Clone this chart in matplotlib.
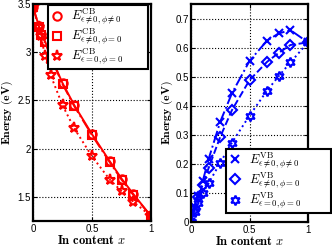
import matplotlib
matplotlib.use("Agg")
import matplotlib.pyplot as plt
import numpy as np

plt.rcParams["mathtext.fontset"] = "cm"
plt.rcParams["font.family"] = ["Liberation Sans", "DejaVu Sans"]

# Conduction band (left panel)
x_cb = [0, 0.05, 0.07, 0.1, 0.15, 0.25, 0.35, 0.5, 0.65, 0.75, 0.85, 1.0]
cb_eps_phi = [3.47, 3.27, 3.19, 3.12, 2.96, 2.68, 2.45, 2.15, 1.87, 1.69, 1.53, 1.30]
cb_eps_only = [3.47, 3.26, 3.18, 3.11, 2.95, 2.67, 2.44, 2.14, 1.86, 1.68, 1.52, 1.30]
cb_none = [3.47, 3.26, 3.17, 2.96, 2.76, 2.45, 2.21, 1.92, 1.68, 1.56, 1.45, 1.30]

# Valence band (right panel)
x_vb = [0, 0.03, 0.06, 0.1, 0.15, 0.25, 0.35, 0.5, 0.65, 0.75, 0.85, 1.0]
vb_eps_phi = [0, 0.05, 0.09, 0.14, 0.216, 0.345, 0.443, 0.554, 0.624, 0.649, 0.66, 0.618]
vb_eps_only = [0, 0.045, 0.085, 0.128, 0.185, 0.293, 0.385, 0.488, 0.551, 0.582, 0.609, 0.618]
vb_none = [0, 0.035, 0.065, 0.1, 0.133, 0.204, 0.273, 0.366, 0.452, 0.502, 0.549, 0.618]

cb_labels = [r"$E^{\rm CB}_{\epsilon\neq0,\phi\neq0}$",
             r"$E^{\rm CB}_{\epsilon\neq0,\phi=0}$",
             r"$E^{\rm CB}_{\epsilon=0,\phi=0}$"]
vb_labels = [r"$E^{\rm VB}_{\epsilon\neq0,\phi\neq0}$",
             r"$E^{\rm VB}_{\epsilon\neq0,\phi=0}$",
             r"$E^{\rm VB}_{\epsilon=0,\phi=0}$"]

red = "#ff0000"
blue = "#0000ff"
hexagram = (6, 1, 0)

fig = plt.figure(figsize=(3.32, 2.47), dpi=100)
ax1 = fig.add_axes([33 / 332, 26 / 247, 118 / 332, 217 / 247])
ax2 = fig.add_axes([191 / 332, 25 / 247, 117 / 332, 218 / 247])


def style_axes(ax, ylab_x):
    ax.grid(True, color="black", linestyle=":", linewidth=0.8)
    ax.tick_params(direction="in", labelsize=7, length=3, width=0.8,
                   top=True, right=True, pad=2)
    ax.tick_params(axis="y", pad=1.5)
    for s in ax.spines.values():
        s.set_linewidth(1.6)
    ax.set_xlabel(r"$\mathbf{In\ content}\ x$", fontsize=9, labelpad=0)
    ax.set_ylabel(r"$\mathbf{Energy\ (eV)}$", fontsize=8.5)
    ax.yaxis.set_label_coords(ylab_x, 0.5)


def make_legend(ax, bbox, loc):
    leg = ax.legend(loc=loc, bbox_to_anchor=bbox, mode="expand", borderaxespad=0,
                    fontsize=9, handlelength=1.2, handletextpad=0.5,
                    labelspacing=0.0, borderpad=0.15, frameon=True, fancybox=False,
                    edgecolor="black", framealpha=1)
    leg.get_frame().set_linewidth(1.5)
    return leg


# left panel
series_cb = [(cb_eps_phi, "o", "-", 6), (cb_eps_only, "s", "-.", 5.2), (cb_none, "*", ":", 8)]
for (y, m, ls, ms), lab in zip(series_cb, cb_labels):
    ax1.plot(x_cb, y, color=red, linestyle=ls, linewidth=1.4)
    ax1.plot(x_cb, y, color=red, linestyle="none", marker=m, ms=ms,
             mfc="none", mew=1.5, label=lab)
ax1.plot([x_cb[0], x_cb[-1]], [cb_none[0], cb_none[-1]], color=red, linestyle="none",
         marker="*", ms=9, mew=1.2)
ax1.set_xlim(0, 1)
ax1.set_ylim(1.25, 3.5)
ax1.set_xticks([0, 0.5, 1])
ax1.set_xticklabels(["0", "0.5", "1"])
ax1.set_yticks([1.5, 2, 2.5, 3, 3.5])
ax1.set_yticklabels(["1.5", "2", "2.5", "3", "3.5"])
style_axes(ax1, -0.155)
make_legend(ax1, (0.127, 0.797, 0.85, 0.198), "upper left")

# right panel
series_vb = [(vb_eps_phi, "x", "-.", 6), (vb_eps_only, "D", "--", 5), (vb_none, hexagram, ":", 7)]
for (y, m, ls, ms), lab in zip(series_vb, vb_labels):
    ax2.plot(x_vb, y, color=blue, linestyle=ls, linewidth=1.4)
    ax2.plot(x_vb, y, color=blue, linestyle="none", marker=m, ms=ms,
             mfc="none", mew=1.5, label=lab)
ax2.plot([x_vb[0], x_vb[-1]], [vb_none[0], vb_none[-1]], color=blue, linestyle="none",
         marker=hexagram, ms=8, mew=1.2)
ax2.set_xlim(0, 1)
ax2.set_ylim(0, 0.75)
ax2.set_xticks([0, 0.5, 1])
ax2.set_xticklabels(["0", "0.5", "1"])
ax2.set_yticks(np.arange(0, 0.71, 0.1))
ax2.set_yticklabels(["0", "0.1", "0.2", "0.3", "0.4", "0.5", "0.6", "0.7"])
style_axes(ax2, -0.135)
make_legend(ax2, (0.30, 0.041, 0.897, 0.22), "lower left")

fig.savefig("out.png", dpi=100)
